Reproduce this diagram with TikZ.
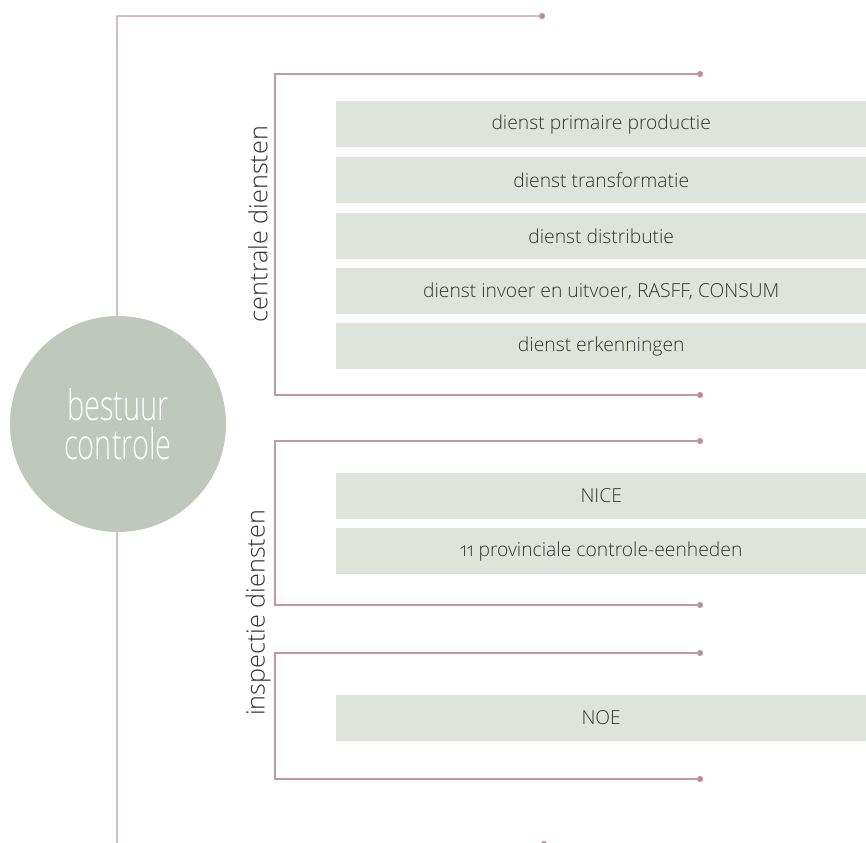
\documentclass[tikz,border=0pt]{standalone}
\usepackage{fontspec}
\setmainfont{Open Sans Light}
\definecolor{linec}{HTML}{C29A9E}
\definecolor{dotc}{HTML}{B98C91}
\definecolor{circc}{HTML}{C0C8BD}
\definecolor{boxc}{HTML}{DEE3DC}
\definecolor{txtc}{HTML}{333333}
\tikzset{
  conn/.style={draw=linec, line width=1.2pt},
  enddot/.style={circle, fill=dotc, inner sep=0pt, minimum size=6pt},
  dienstbox/.style={fill=boxc, minimum width=530pt, minimum height=46pt, inner sep=0pt,
    text=txtc, font=\fontsize{19.3}{23}\selectfont, anchor=west},
  sidelabel/.style={rotate=90, text=txtc, font=\fontsize{25.2}{29}\selectfont},
}
\begin{document}
\begin{tikzpicture}[x=1pt,y=-1pt]
\useasboundingbox (0,0) rectangle (866,842);
\clip (0,0) rectangle (866,842);
% main bracket
\coordinate (mt) at (117,16);
\coordinate (mb) at (117,845);
\node[enddot] (mtd) at (542,16) {};
\node[enddot] (mbd) at (544,844) {};
\draw[conn] (mtd.center) -- (mt) -- (mb) -- (mbd.center);
% circle
\node[circle, fill=circc, minimum size=216pt, inner sep=0pt, text=white,
  align=center, font=\fontsize{42}{42}\selectfont] (bc) at (118,424)
  {\scalebox{0.69}[1]{bestuur}\\[-3pt]\scalebox{0.69}[1]{controle}};
% centrale bracket
\coordinate (ct) at (275,74);
\coordinate (cb) at (275,395);
\node[enddot] (ctd) at (700,74) {};
\node[enddot] (cbd) at (700,395) {};
\draw[conn] (ctd.center) -- (ct) -- (cb) -- (cbd.center);
% inspectie bracket 1
\coordinate (it) at (275,441);
\coordinate (ib) at (275,605);
\node[enddot] (itd) at (700,441) {};
\node[enddot] (ibd) at (700,605) {};
\draw[conn] (itd.center) -- (it) -- (ib) -- (ibd.center);
% inspectie bracket 2
\coordinate (jt) at (275,653);
\coordinate (jb) at (275,779);
\node[enddot] (jtd) at (700,653) {};
\node[enddot] (jbd) at (700,779) {};
\draw[conn] (jtd.center) -- (jt) -- (jb) -- (jbd.center);
% boxes
\node[dienstbox] (b1) at (336,124) {dienst primaire productie};
\node[dienstbox] (b2) at (336,180) {dienst transformatie};
\node[dienstbox] (b3) at (336,236) {dienst distributie};
\node[dienstbox] (b4) at (336,291) {dienst invoer en uitvoer, RASFF, CONSUM};
\node[dienstbox] (b5) at (336,346) {dienst erkenningen};
\node[dienstbox] (b6) at (336,496) {NICE};
\node[dienstbox] (b7) at (336,551) {\addfontfeatures{Numbers=OldStyle}11 provinciale controle-eenheden};
\node[dienstbox] (b8) at (336,718) {NOE};
% side labels
\node[sidelabel] (lc) at (258,224) {centrale diensten};
\node[sidelabel] (li) at (258,613) {inspectie diensten};
\end{tikzpicture}
\end{document}
